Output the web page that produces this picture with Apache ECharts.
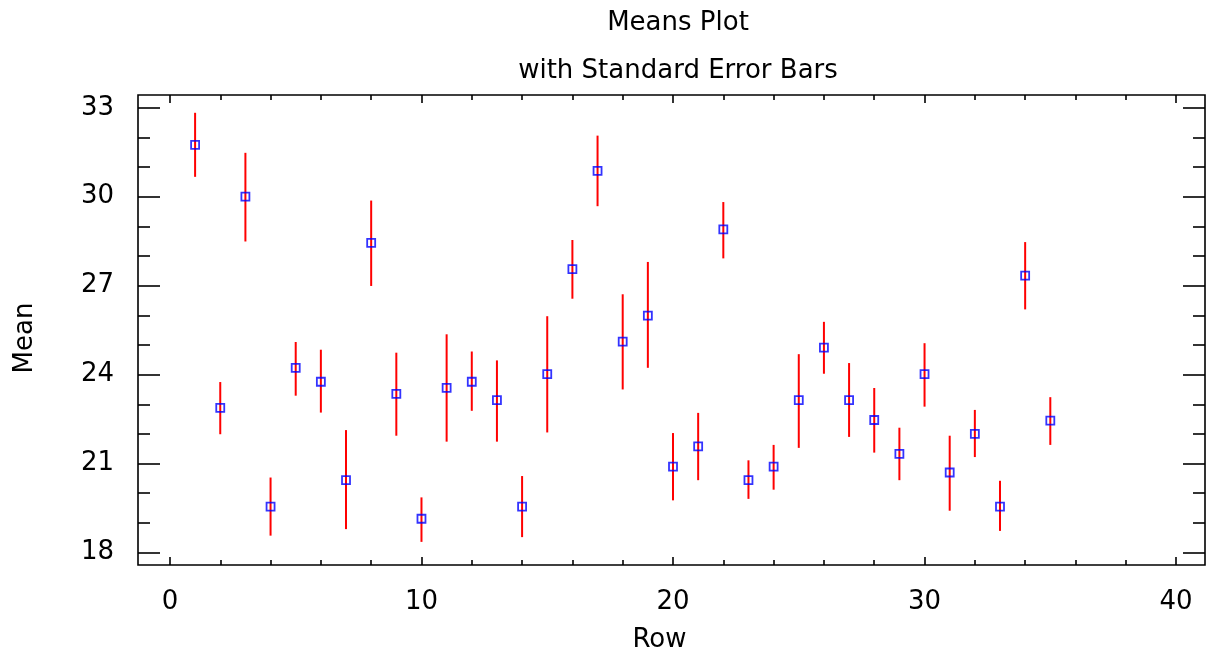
<!DOCTYPE html>
<html>
<head>
<meta charset="utf-8">
<script src="https://cdn.jsdelivr.net/npm/echarts@6/dist/echarts.min.js"></script>
<style>html,body{margin:0;padding:0;background:#fff}#c{width:1207px;height:658px}</style>
</head>
<body>
<div id="c"></div>
<script>
var rows  = [1,2,3,4,5,6,7,8,9,10,11,12,13,14,15,16,17,18,19,20,21,22,23,24,25,26,27,28,29,30,31,32,33,34,35];
var means = [31.75,22.88,30.00,19.55,24.23,23.76,20.44,28.44,23.35,19.14,23.55,23.76,23.14,19.55,24.02,27.56,30.87,25.11,25.99,20.90,21.58,28.90,20.44,20.90,23.14,24.91,23.14,22.47,21.33,24.02,20.70,22.00,19.55,27.34,22.45];
var upper = [32.83,23.75,31.48,20.53,25.10,24.84,22.13,29.87,24.74,19.86,25.36,24.78,24.48,20.58,25.97,28.54,32.06,26.71,27.80,22.03,22.71,29.82,21.11,21.63,24.69,25.78,24.39,23.55,22.21,25.06,21.94,22.81,20.42,28.47,23.24];
var lower = [30.67,21.99,28.49,18.57,23.29,22.72,18.79,26.99,21.94,18.36,21.74,22.78,21.74,18.52,22.05,26.56,29.68,23.50,24.23,19.76,20.44,27.92,19.81,20.12,21.53,24.03,21.90,21.37,20.44,22.92,19.41,21.22,18.73,26.20,21.63];
var xMajor = [0,10,20,30,40];
var xMinor = [2,4,6,8,12,14,16,18,22,24,26,28,32,34,36,38];
var yMajor = [18,21,24,27,30,33];
var yMinor = [19,20,22,23,25,26,28,29,31,32];

var FONT = 'DejaVu Sans';
var XMIN = -1.27, XMAX = 41.15, YMIN = 17.58, YMAX = 33.43;

function xAx(pos, vals, len, labels, extra) {
  var a = {
    type: 'value', position: pos, min: XMIN, max: XMAX, gridIndex: 0,
    axisLine: { show: false, onZero: false },
    splitLine: { show: false },
    axisTick: { show: true, inside: true, length: len, customValues: vals, lineStyle: { color: '#000', width: 1.6 } },
    axisLabel: labels ? { show: true, customValues: vals, margin: 24, color: '#000', fontFamily: FONT, fontSize: 26 } : { show: false }
  };
  return Object.assign(a, extra || {});
}
function yAx(pos, vals, len, labels, extra) {
  var a = {
    type: 'value', position: pos, min: YMIN, max: YMAX, gridIndex: 0,
    axisLine: { show: false, onZero: false },
    splitLine: { show: false },
    axisTick: { show: true, inside: true, length: len, customValues: vals, lineStyle: { color: '#000', width: 1.6 } },
    axisLabel: labels ? { show: true, customValues: vals, margin: 24, color: '#000', fontFamily: FONT, fontSize: 26 } : { show: false }
  };
  return Object.assign(a, extra || {});
}

var errData = rows.map(function (r, i) { return [r, lower[i], upper[i]]; });
var ptData = rows.map(function (r, i) { return [r, means[i]]; });

var chart = echarts.init(document.getElementById('c'));
chart.setOption({
  animation: false,
  backgroundColor: '#fff',
  title: [
    { text: 'Means Plot', left: 673, top: 5, textAlign: 'center',
      textStyle: { fontFamily: FONT, fontSize: 26, fontWeight: 'normal', color: '#000' } },
    { text: 'with Standard Error Bars', left: 673, top: 53, textAlign: 'center',
      textStyle: { fontFamily: FONT, fontSize: 26, fontWeight: 'normal', color: '#000' } }
  ],
  grid: { left: 138, right: 2, top: 95, bottom: 90, show: true, borderColor: '#000', borderWidth: 1.6, backgroundColor: 'transparent' },
  xAxis: [
    xAx('bottom', xMajor, 8, true, { name: 'Row', nameLocation: 'middle', nameGap: 62,
      nameTextStyle: { fontFamily: FONT, fontSize: 26, color: '#000', padding: [0, 24, 0, 0] } }),
    xAx('bottom', xMinor, 5, false),
    xAx('top', xMajor, 8, false),
    xAx('top', xMinor, 5, false)
  ],
  yAxis: [
    yAx('left', yMajor, 22, true, { name: 'Mean', nameLocation: 'middle', nameGap: 100, nameRotate: 90,
      nameTextStyle: { fontFamily: FONT, fontSize: 26, color: '#000', padding: [0, 16, 0, 0] } }),
    yAx('left', yMinor, 12, false),
    yAx('right', yMajor, 22, false),
    yAx('right', yMinor, 12, false)
  ],
  series: [
    {
      type: 'custom', xAxisIndex: 0, yAxisIndex: 0, data: errData, z: 2,
      renderItem: function (params, api) {
        var p1 = api.coord([api.value(0), api.value(1)]);
        var p2 = api.coord([api.value(0), api.value(2)]);
        return { type: 'line', shape: { x1: p1[0], y1: p1[1], x2: p2[0], y2: p2[1] },
          style: { stroke: '#ff0000', lineWidth: 2 } };
      }
    },
    {
      type: 'scatter', xAxisIndex: 0, yAxisIndex: 0, data: ptData, z: 3,
      symbol: 'rect', symbolSize: 8,
      itemStyle: { color: 'rgba(0,0,0,0)', borderColor: '#0000ff', borderWidth: 1.8 }
    }
  ]
});
</script>
</body>
</html>
